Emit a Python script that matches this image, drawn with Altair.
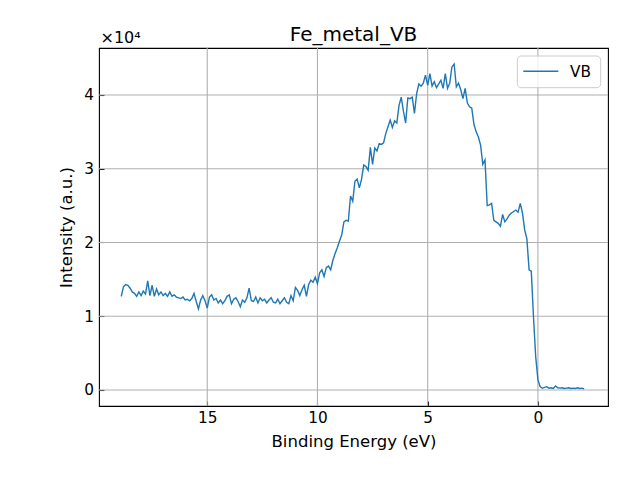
import altair as alt
import pandas as pd

# Binding energy grid (eV), 0.1 eV steps from 18.9 down to -2.1
energy = [round(18.9 - 0.1 * i, 1) for i in range(211)]

# Intensity (counts)
intensity = [
    12700, 14000, 14300, 14200, 13800, 13300, 13100, 12700, 13300, 12800,
    13400, 13000, 14800, 12800, 14200, 12700, 13700, 12900, 13300, 12800,
    13100, 12700, 13300, 12700, 12900, 12600, 12500, 12400, 12600, 12200,
    12300, 12100, 12400, 13100, 12000, 11000, 12200, 12800, 12100, 11100,
    12600, 12900, 12200, 12400, 11800, 12200, 11700, 12100, 12700, 12900,
    11700, 12300, 12500, 12000, 11300, 12200, 11900, 12500, 13800, 12100,
    12000, 12600, 11800, 12500, 12100, 12300, 11800, 12200, 12500, 11900,
    11800, 12300, 11700, 12100, 12500, 11900, 11700, 12800, 12100, 13900,
    13500, 12800, 13600, 14200, 12700, 14300, 14900, 14600, 15300, 14400,
    15900, 16300, 15400, 16600, 16800, 16300, 17600, 18500, 19300, 20200,
    21000, 22800, 23000, 22900, 26300, 25600, 28300, 28600, 27400, 28600,
    30500, 30300, 29800, 32900, 30600, 32800, 32400, 33400, 33300, 33500,
    34800, 35700, 36600, 35600, 36500, 36200, 38600, 39700, 37800, 36200,
    39600, 39500, 39700, 37500, 40200, 41500, 41200, 41600, 42700, 41300,
    42900, 41200, 41800, 41000, 41500, 42000, 40900, 42900, 40900, 41600,
    43800, 44200, 41100, 41600, 40700, 39500, 40900, 38900, 38400, 38200,
    36000, 35000, 34300, 33200, 30600, 31200, 25000, 25100, 25300, 23000,
    22800, 22600, 22200, 23800, 22800, 23200, 23700, 24000, 24200, 24400,
    24100, 25300, 24000, 21700, 20500, 16300, 16100, 9900, 4500, 1400,
    450, 230, 350, 450, 250, 300, 200, 550, 300, 250,
    300, 200, 250, 300, 200, 250, 200, 300, 200, 250, 150,
]

series_name = "VB"
title_text = "Fe_metal_VB"
offset_label = "×10⁴"
x_ticks = [15, 10, 5, 0]
y_ticks = [0, 10000, 20000, 30000, 40000]
x_domain = [-3.18, 19.91]
y_domain = [-2170, 46370]

FONT = "DejaVu Sans"
LINE_COLOR = "#1f77b4"
W, H = 509, 358

df = pd.DataFrame({"energy": energy, "intensity": intensity})
gx = pd.DataFrame({"t": x_ticks})
gy = pd.DataFrame({"t": y_ticks})
one = pd.DataFrame({"title": [title_text], "off": [offset_label], "name": [series_name]})

xscale = alt.Scale(domain=x_domain, reverse=True, nice=False, zero=False)
yscale = alt.Scale(domain=y_domain, nice=False, zero=False)

xaxis = alt.Axis(
    values=x_ticks, title="Binding Energy (eV)", grid=False, domain=False,
    offset=-5, tickSize=5, tickColor="black", tickWidth=1.1,
    labelFont=FONT, labelFontSize=15.3, labelColor="black", labelPadding=4.5,
    titleFont=FONT, titleFontSize=16.5, titleFontWeight="normal",
    titleColor="black", titlePadding=8, format="d",
)
yaxis = alt.Axis(
    values=y_ticks, title="Intensity (a.u.)", grid=False, domain=False,
    offset=-5, tickSize=5, tickColor="black", tickWidth=1.1,
    labelFont=FONT, labelFontSize=15.3, labelColor="black", labelPadding=5.5,
    labelExpr="format(datum.value / 10000, 'd')",
    titleFont=FONT, titleFontSize=16.5, titleFontWeight="normal",
    titleColor="black", titlePadding=9,
)

grid_x = alt.Chart(gx).mark_rule(color="#b0b0b0", strokeWidth=1.1).encode(
    x=alt.X("t:Q", scale=xscale, axis=xaxis)
)
grid_y = alt.Chart(gy).mark_rule(color="#b0b0b0", strokeWidth=1.1).encode(
    y=alt.Y("t:Q", scale=yscale, axis=yaxis)
)

line = alt.Chart(df).mark_line(strokeWidth=1.4, color=LINE_COLOR).encode(
    x=alt.X("energy:Q", scale=xscale, axis=xaxis),
    y=alt.Y("intensity:Q", scale=yscale, axis=yaxis),
)

# Legend (matplotlib-style box, upper right)
legend_box = alt.Chart(one).mark_rect(
    fill="white", fillOpacity=0.8, stroke="#cccccc", strokeWidth=1, cornerRadius=4
).encode(x=alt.value(418.3), x2=alt.value(501.7), y=alt.value(8), y2=alt.value(39.7))
legend_line = alt.Chart(one).mark_rule(color=LINE_COLOR, strokeWidth=1.4).encode(
    x=alt.value(424.3), x2=alt.value(459.3), y=alt.value(23.3)
)
legend_text = alt.Chart(one).mark_text(
    font=FONT, fontSize=15.3, align="left", baseline="alphabetic", color="black"
).encode(x=alt.value(471), y=alt.value(29.2), text="name:N")

offset_text = alt.Chart(one).mark_text(
    font=FONT, fontSize=16, align="left", baseline="alphabetic", color="black"
).encode(x=alt.value(1.5), y=alt.value(-5.3), text="off:N")

title_mark = alt.Chart(one).mark_text(
    font=FONT, fontSize=20, align="center", baseline="alphabetic", color="black"
).encode(x=alt.value(W / 2), y=alt.value(-6.7), text="title:N")

chart = alt.layer(
    grid_x, grid_y, line, legend_box, legend_line, legend_text, offset_text, title_mark
).properties(
    width=W, height=H,
    padding={"left": 91, "top": 40, "right": 24, "bottom": 66},
    autosize=alt.AutoSizeParams(type="none"),
).configure_view(stroke="black", strokeWidth=1.1)

chart.save("out.html", embed_options={"renderer": "svg", "actions": False})
